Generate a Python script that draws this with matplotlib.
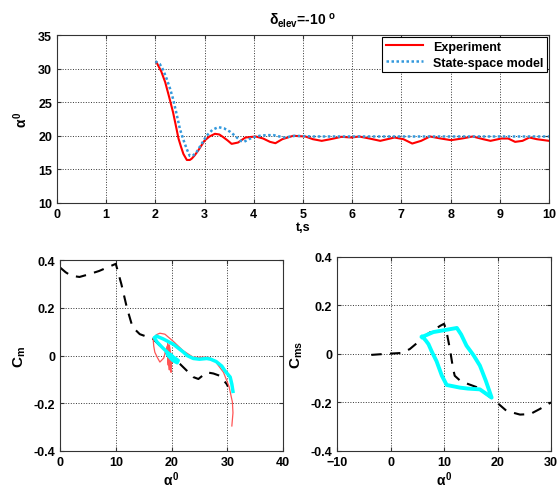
import matplotlib
matplotlib.use('Agg')
import matplotlib.pyplot as plt

plt.rcParams['font.family'] = ['Liberation Sans', 'DejaVu Sans']
plt.rcParams['font.weight'] = 'bold'
plt.rcParams['mathtext.fontset'] = 'custom'
plt.rcParams['mathtext.rm'] = 'Liberation Sans'
plt.rcParams['mathtext.it'] = 'Liberation Sans'
plt.rcParams['mathtext.bf'] = 'Liberation Sans:bold'

# time response, alpha (deg)
t_exp = [2.02, 2.12, 2.2, 2.28, 2.36, 2.42, 2.47, 2.52, 2.57, 2.64, 2.7, 2.74, 2.8, 2.87, 2.94, 3.0,
         3.1, 3.21, 3.3, 3.38, 3.47, 3.55, 3.68, 3.83, 4.04, 4.19, 4.33, 4.44, 4.58, 4.8, 5.05, 5.2,
         5.38, 5.56, 5.78, 5.99, 6.14, 6.35, 6.57, 6.86, 7.04, 7.22, 7.4, 7.58, 7.8, 8.01, 8.23, 8.45,
         8.66, 8.81, 9.03, 9.17, 9.31, 9.46, 9.6, 9.75, 10.0]
a_exp = [31.0, 29.6, 28.0, 25.8, 23.5, 21.4, 19.6, 18.4, 17.3, 16.4, 16.4, 16.6, 17.1, 17.8, 18.6, 19.3,
         19.9, 20.3, 20.2, 19.8, 19.3, 18.8, 19.0, 19.75, 19.9, 19.6, 19.1, 18.9, 19.5, 20.0, 19.9, 19.5,
         19.25, 19.5, 19.85, 19.75, 19.9, 19.6, 19.25, 19.75, 19.5, 18.85, 19.25, 19.9, 19.6, 19.35, 19.6, 19.9,
         19.5, 19.25, 19.6, 19.6, 19.1, 19.25, 19.75, 19.5, 19.25]
t_ss = [2.0, 2.09, 2.16, 2.23, 2.3, 2.36, 2.43, 2.5, 2.57, 2.64, 2.7, 2.77, 2.84, 2.94, 3.04, 3.16,
        3.28, 3.4, 3.52, 3.62, 3.72, 3.8, 3.9, 4.0, 4.12, 4.25, 4.4, 4.62, 4.84, 5.2, 6.0, 7.0, 8.0, 9.0, 10.0]
a_ss = [31.1, 30.7, 29.8, 28.5, 27.0, 25.5, 23.3, 21.0, 19.4, 18.0, 17.0, 17.1, 17.6, 18.8, 20.0, 20.9,
        21.3, 21.1, 20.6, 20.0, 19.3, 19.1, 19.5, 19.8, 20.0, 20.1, 20.1, 19.75, 20.0, 19.9, 19.9, 19.9, 19.9, 19.9, 19.9]

# Cm vs alpha
al_cm_ref = [0, 1, 2, 3.5, 5, 7, 9, 10, 11, 12, 13, 14.3, 16.7, 18, 19.4, 21.5, 23.9, 24.8, 26.3, 27.5, 28.7, 29.9, 30.1]
cm_ref = [0.37, 0.35, 0.335, 0.33, 0.34, 0.355, 0.375, 0.385, 0.3, 0.2, 0.12, 0.09, 0.07, 0.04, 0.0, -0.035, -0.09,
          -0.098, -0.07, -0.075, -0.085, -0.12, -0.13]
al_cm_exp = [30.8, 31.0, 30.9, 30.3, 29.3, 27.8, 26.9, 26.3, 23.9, 22.1, 20.3, 18.8, 17.9, 17.3, 16.7, 16.8, 17.0,
             17.5, 17.9, 18.6, 19.2, 19.4, 19.3, 19.6, 19.5, 19.9, 19.7, 20.1, 19.6, 19.9, 19.3, 19.8, 19.5,
             19.9, 19.4, 19.7]
cm_exp = [-0.295, -0.24, -0.195, -0.13, -0.07, -0.023, -0.01, -0.007, -0.007, 0.02, 0.06, 0.09, 0.094, 0.088, 0.07,
          0.04, 0.014, -0.01, -0.027, -0.01, 0.04, -0.04, 0.05, -0.06, 0.03, -0.07, 0.01, -0.03, 0.045, -0.05, 0.02,
          -0.055, 0.035, -0.04, 0.02, 0.0]
al_cm_ss = [31.0, 30.8, 30.5, 29.6, 29.0, 28.0, 27.0, 26.3, 25.0, 23.9, 22.8, 22.1, 20.3, 18.5, 17.3, 16.9, 17.4,
            18.3, 19.2, 20.3, 21.2, 21.0, 20.2, 19.4, 19.2, 19.8, 20.0]
cm_ss = [-0.15, -0.12, -0.09, -0.065, -0.044, -0.025, -0.015, -0.012, -0.015, -0.012, 0.0, 0.015, 0.048, 0.07,
         0.082, 0.075, 0.057, 0.035, 0.015, -0.006, -0.02, -0.03, -0.02, 0.0, 0.01, -0.005, 0.0]

# Cms vs alpha
al_cms_ref = [-3.6, -1.0, 2.1, 3.6, 5.5, 7.0, 9.3, 10.0, 10.4, 11.1, 11.7, 12.0, 13.0, 14.5, 16.1, 17.9, 19.5, 21.7,
              24.2, 26.1, 27.9, 30.0]
cms_ref = [-0.004, 0.0, 0.004, 0.02, 0.055, 0.083, 0.116, 0.124, 0.1, 0.02, -0.062, -0.09, -0.11, -0.124, -0.137,
           -0.166, -0.193, -0.235, -0.25, -0.248, -0.227, -0.2]
al_cms_ss = [5.9, 8.0, 10.6, 12.4, 13.2, 14.2, 15.5, 16.7, 17.8, 18.9, 16.7, 14.5, 13.0, 10.5, 9.6, 8.6, 7.7, 7.1,
             6.6, 6.2, 5.9]
cms_ss = [0.07, 0.09, 0.1, 0.107, 0.08, 0.034, -0.005, -0.048, -0.11, -0.18, -0.146, -0.143, -0.139, -0.128, -0.09,
          -0.03, 0.01, 0.04, 0.055, 0.065, 0.07]

fig = plt.figure(figsize=(5.58, 4.89), dpi=100)

def style(ax):
    ax.grid(True, linestyle=':', color='#333333', linewidth=0.7)
    ax.tick_params(direction='in', top=True, right=True, labelsize=9, length=3, color='#333333')
    for s in ax.spines.values():
        s.set_color('#333333')
        s.set_linewidth(0.8)
    for lab in ax.get_xticklabels() + ax.get_yticklabels():
        lab.set_fontweight('bold')

ax1 = fig.add_axes([0.102, 0.583, 0.882, 0.343])
ax1.plot(t_exp, a_exp, color='red', linewidth=1.5, label='Experiment')
ax1.plot(t_ss, a_ss, color='#3399dd', linestyle=(0, (1, 1)), linewidth=1.8, label='State-space model')
ax1.set_xlim(0, 10)
ax1.set_ylim(10, 35)
ax1.set_xticks(range(0, 11))
ax1.set_yticks(range(10, 36, 5))
style(ax1)
ax1.set_xlabel('t,s', fontsize=9, fontweight='bold', labelpad=1)
ax1.set_ylabel(r'$\alpha^0$', fontsize=10, labelpad=6)
ax1.set_title(r'$\delta_{\rm elev}$=-10 $^{\rm o}$', fontsize=10, fontweight='bold', pad=8)
leg = ax1.legend(loc='upper right', fontsize=9, fancybox=False, edgecolor='black', framealpha=1,
                 borderaxespad=0.15, handlelength=3, borderpad=0.3, labelspacing=0.3)
leg.get_frame().set_linewidth(0.8)

ax2 = fig.add_axes([0.1075, 0.0757, 0.400, 0.39])
ax2.plot(al_cm_ref, cm_ref, color='black', linestyle=(0, (5, 4)), linewidth=1.5)
ax2.plot(al_cm_exp, cm_exp, color='#ff5555', linewidth=0.9)
ax2.plot(al_cm_ss, cm_ss, color='cyan', linewidth=2.5)
ax2.set_xlim(0, 40)
ax2.set_ylim(-0.4, 0.4)
ax2.set_xticks([0, 10, 20, 30, 40])
ax2.set_yticks([-0.4, -0.2, 0, 0.2, 0.4])
ax2.set_yticklabels(['-0.4', '-0.2', '0', '0.2', '0.4'])
style(ax2)
ax2.set_xlabel(r'$\alpha^0$', fontsize=10, labelpad=1)
ax2.set_ylabel(r'$\mathbf{C_m}$', fontsize=11, labelpad=4)

ax3 = fig.add_axes([0.604, 0.0757, 0.3835, 0.397])
ax3.plot(al_cms_ref, cms_ref, color='black', linestyle=(0, (5, 4)), linewidth=1.5)
ax3.plot(al_cms_ss, cms_ss, color='cyan', linewidth=2.8)
ax3.set_xlim(-10, 30)
ax3.set_ylim(-0.4, 0.4)
ax3.set_xticks([-10, 0, 10, 20, 30])
ax3.set_yticks([-0.4, -0.2, 0, 0.2, 0.4])
ax3.set_yticklabels(['-0.4', '-0.2', '0', '0.2', '0.4'])
style(ax3)
ax3.set_xlabel(r'$\alpha^0$', fontsize=10, labelpad=1)
ax3.set_ylabel(r'$\mathbf{C_{ms}}$', fontsize=11, labelpad=4)

fig.savefig('out.png', dpi=100)
